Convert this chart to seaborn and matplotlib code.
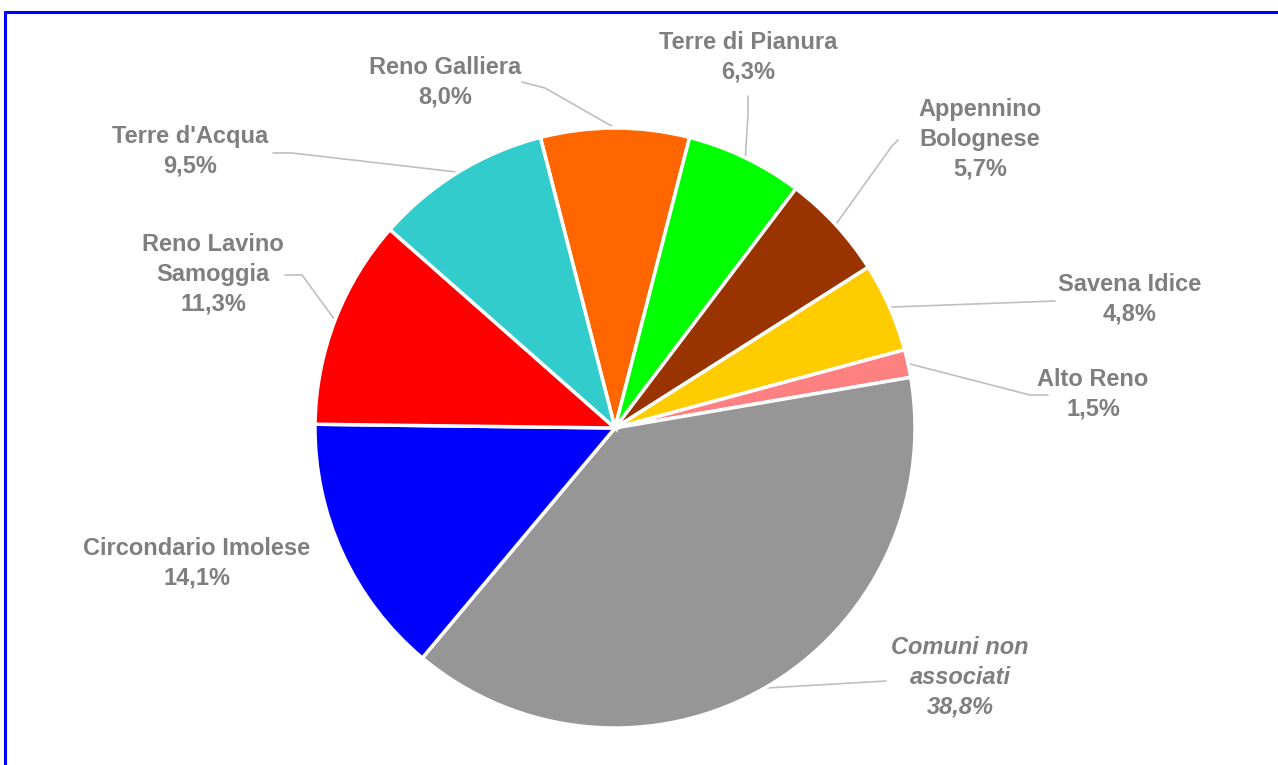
import numpy as np
import matplotlib
matplotlib.use("Agg")
import matplotlib.pyplot as plt
import seaborn as sns

# Unioni di comuni della Città metropolitana di Bologna (quota %)
categories = ["Reno Galliera", "Terre di Pianura", "Appennino\nBolognese",
              "Savena Idice", "Alto Reno", "Comuni non\nassociati",
              "Circondario Imolese", "Reno Lavino\nSamoggia", "Terre d'Acqua"]
shares = [8.0, 6.3, 5.7, 4.8, 1.5, 38.8, 14.1, 11.3, 9.5]
slice_colors = ["#FF6600", "#00FF00", "#993300", "#FFCC00", "#FF8080",
                "#969696", "#0000FF", "#FF0000", "#33CCCC"]

# label placement (pixel layout, origin top-left) and leader-line elbows
label_xy = [(445, 82), (748, 57), (980, 139), (1130, 299), (1093, 394),
            (960, 677), (197, 563), (213, 274), (190, 151)]
elbow_xy = [[(522, 82), (545, 88)], [(748, 96), (748, 115)],
            [(898, 140), (892, 146)], [(1055, 301)], [(1048, 395), (1030, 395)],
            [(886, 681)], None, [(285, 275), (302, 275)], [(273, 153), (292, 153)]]

W, H = 1278, 765
CX, CY, R = 615, 428, 300
START = 104.4  # degrees, counter-clockwise from the x axis

sns.set_theme(style="white")
plt.rcParams["font.family"] = ["Liberation Sans", "DejaVu Sans"]

fig = plt.figure(figsize=(W / 100, H / 100), dpi=100)
ax = fig.add_axes([0, 0, 1, 1])

palette = sns.color_palette(slice_colors)
wedges, _ = ax.pie(shares, colors=palette, startangle=START, counterclock=False,
                   center=(CX, H - CY), radius=R,
                   wedgeprops=dict(edgecolor="white", linewidth=2.5))
ax.set_xlim(0, W)
ax.set_ylim(0, H)
ax.set_aspect("equal")
ax.axis("off")

text_color = "#7F7F7F"
line_color = "#BFBFBF"
total = sum(shares)
cum = 0.0
for name, val, (lx, ly), elbow in zip(categories, shares, label_xy, elbow_xy):
    mid = START - (cum + val / 2) / total * 360.0
    cum += val
    style = "italic" if name.startswith("Comuni") else "normal"
    ax.text(lx, H - ly, f"{name}\n{val:.1f}%".replace(".", ","),
            ha="center", va="center", fontsize=17, fontweight="bold",
            fontstyle=style, color=text_color, linespacing=1.37)
    if elbow:
        ex = CX + R * np.cos(np.radians(mid))
        ey = (H - CY) + R * np.sin(np.radians(mid))
        xs = [p[0] for p in elbow] + [ex]
        ys = [H - p[1] for p in elbow] + [ey]
        ax.plot(xs, ys, color=line_color, lw=1.2, zorder=0.5)

# outer frame
fig.add_artist(plt.Line2D([5 / W, 5 / W], [0, 1 - 12 / H], color="#0000FF",
                          lw=2.2, transform=fig.transFigure))
fig.add_artist(plt.Line2D([5 / W, 1], [1 - 12 / H, 1 - 12 / H], color="#0000FF",
                          lw=2.2, transform=fig.transFigure))

fig.savefig("out.png", dpi=100, facecolor="white")
